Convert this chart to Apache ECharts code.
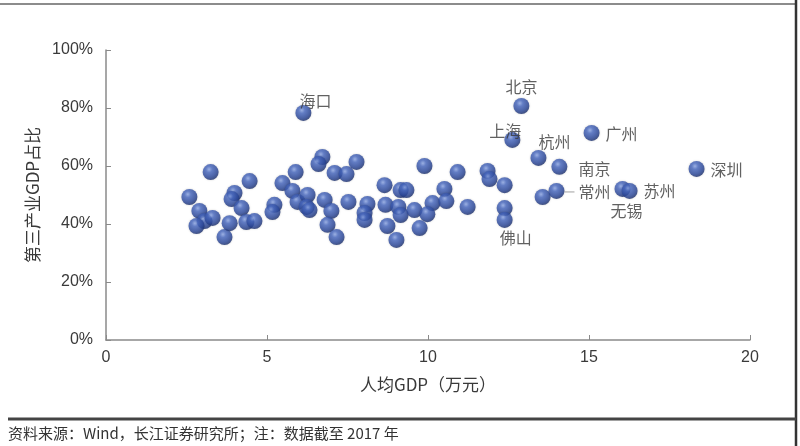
<!DOCTYPE html>
<html>
<head>
<meta charset="utf-8">
<script src="https://cdn.jsdelivr.net/npm/echarts@6/dist/echarts.min.js"></script>
<style>
html,body{margin:0;padding:0;background:#fff;}
#c{width:800px;height:446px;}
</style>
</head>
<body>
<div id="c"></div>
<script>
// ---- data ----
const otherX = [2.59,3.25,2.90,3.06,3.31,2.81,3.68,3.84,4.46,3.99,3.90,4.21,4.36,4.61,5.23,5.17,5.48,5.79,5.89,5.95,6.26,6.23,6.32,6.72,6.60,7.10,7.47,7.78,6.79,7.00,6.88,7.16,7.53,8.12,8.03,8.03,8.65,9.15,9.33,8.68,9.08,9.15,8.74,9.02,9.89,9.58,10.14,9.98,9.74,10.51,10.57,10.92,11.23,11.85,11.91,12.38,12.38,13.56];
const otherY = [49.3,57.9,44.5,41.0,42.1,39.3,35.5,40.3,54.8,50.7,48.6,45.5,40.7,41.0,46.6,44.1,54.1,51.4,57.9,47.6,50.0,45.9,44.8,63.1,60.7,57.6,57.2,61.4,48.3,44.5,39.7,35.5,47.6,46.9,43.8,41.4,53.4,51.7,51.7,46.6,45.9,43.1,39.3,34.5,60.0,44.8,47.2,43.4,38.6,52.1,47.9,57.9,45.9,58.3,55.5,53.4,45.5,49.3];
const cityNames = ['海口','北京','上海','广州','杭州','南京','深圳','常州','无锡','苏州','佛山'];
const cityX = [6.13,12.90,12.62,15.08,13.43,14.08,18.34,13.99,16.04,16.26,12.38];
const cityY = [78.3,80.7,69.0,71.4,62.8,59.7,59.0,51.4,52.1,51.4,41.4];
const xTitle = '人均GDP（万元）';
const yTitle = '第三产业GDP占比';
const footnote = '资料来源：Wind，长江证券研究所；注：数据截至 2017 年';

// ---- label placement (styling) ----
const labelOffset = {
  '海口':[12,-12],'北京':[0,-19],'上海':[-7,-9],'广州':[30,1],'杭州':[16,-16],
  '南京':[35,2],'深圳':[30,1],'无锡':[4,22],'苏州':[30,0],'佛山':[11,18]
};

const ballColor = {
  type:'radial', x:0.4, y:0.33, r:0.7,
  colorStops:[
    {offset:0, color:'#8fa9e8'},
    {offset:0.28, color:'#4869c2'},
    {offset:0.72, color:'#2a479b'},
    {offset:1, color:'#1a2d68'}
  ]
};
const itemStyle = {color: ballColor, shadowBlur:2, shadowColor:'rgba(0,0,0,0.25)'};
const txt = '#3a3a3a';
const latin = '"Liberation Sans", Arial, "Noto Sans CJK SC", sans-serif';
const cjk = '"Noto Sans CJK SC", "Liberation Sans", sans-serif';

const otherData = otherX.map((x,i)=>[x, otherY[i]]);
const cityData = cityNames.map((n,i)=>{
  const item = {name:n, value:[cityX[i], cityY[i]]};
  if (n === '常州') {
    item.label = {show:true, position:'right', distance:0, offset:[0,1],
      formatter:'{l|}{t|' + n + '}',
      rich:{ l:{width:10, height:1, backgroundColor:'#888'},
             t:{padding:[0,0,0,4], fontSize:16, color:txt, fontFamily:cjk} } };
  } else {
    item.label = {show:true, position:'inside', offset:labelOffset[n], formatter:n};
  }
  return item;
});

const chart = echarts.init(document.getElementById('c'), null, {renderer:'canvas'});
chart.setOption({
  backgroundColor:'#fff',
  animation:false,
  grid:{left:106, right:50, top:50, bottom:106},
  xAxis:{
    type:'value', min:0, max:20, interval:5,
    name:xTitle, nameLocation:'middle', nameGap:36,
    nameTextStyle:{fontSize:17, color:txt, fontFamily:cjk},
    axisLine:{show:true, onZero:false, lineStyle:{color:'#8a8a8a', width:1.5}},
    axisTick:{show:true, inside:true, length:5, lineStyle:{color:'#8a8a8a'}},
    axisLabel:{fontSize:16, color:txt, margin:10, fontFamily:latin},
    splitLine:{show:false}
  },
  yAxis:{
    type:'value', min:0, max:100, interval:20,
    name:yTitle, nameLocation:'middle', nameGap:57, nameRotate:90,
    nameTextStyle:{fontSize:17, color:txt, fontFamily:cjk},
    axisLine:{show:true, lineStyle:{color:'#8a8a8a', width:1.5}},
    axisTick:{show:true, inside:true, length:5, lineStyle:{color:'#8a8a8a'}},
    axisLabel:{fontSize:16, color:txt, margin:13, fontFamily:latin, formatter:'{value}%'},
    splitLine:{show:false}
  },
  series:[
    {type:'scatter', symbolSize:16, data:otherData, itemStyle:itemStyle, z:2},
    {type:'scatter', symbolSize:16, data:cityData, itemStyle:itemStyle, z:3,
     label:{show:true, fontSize:16, color:txt, fontFamily:cjk}}
  ],
  graphic:[
    {type:'line', shape:{x1:0, y1:4, x2:796, y2:4}, style:{stroke:'#666', lineWidth:1.5}, silent:true},
    {type:'line', shape:{x1:796, y1:0, x2:796, y2:446}, style:{stroke:'#333', lineWidth:2.5}, silent:true},
    {type:'line', shape:{x1:8, y1:419, x2:796, y2:419}, style:{stroke:'#444', lineWidth:3}, silent:true},
    {type:'text', left:8, top:426, style:{text:footnote, fontSize:15, fill:'#333', fontFamily:cjk}, silent:true}
  ]
});
</script>
</body>
</html>
